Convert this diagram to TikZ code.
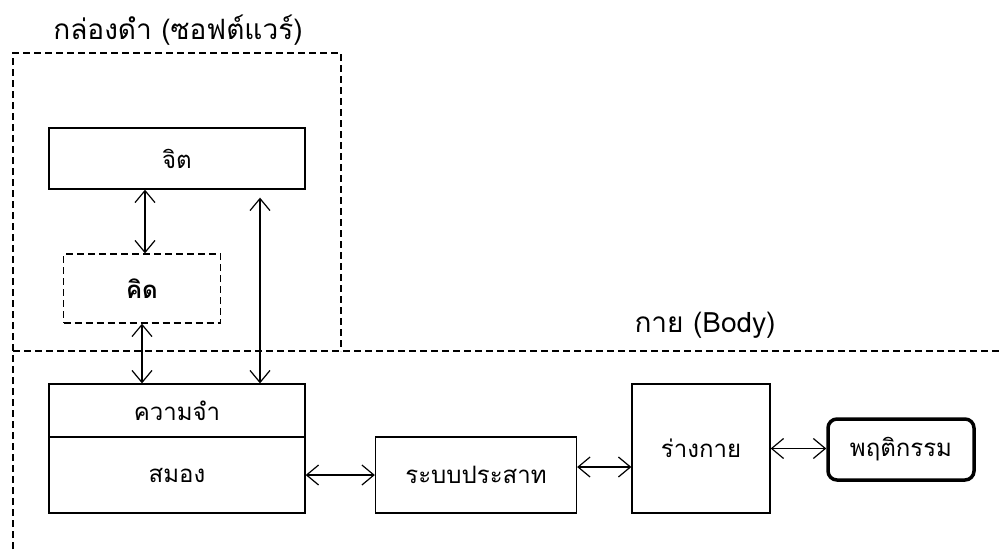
\documentclass[tikz,border=0pt]{standalone}
\usepackage{fontspec}
\setmainfont[Script=Thai]{Loma}
\usetikzlibrary{arrows.meta}
\begin{document}
\begin{tikzpicture}[x=1pt,y=-1pt,
  box/.style={draw, line width=1.3pt, inner sep=0pt, font=\fontsize{24}{28}\selectfont},
  dbox/.style={box, dash pattern=on 7pt off 4pt},
  link/.style={{Straight Barb[length=12pt,width=20pt]}-{Straight Barb[length=12pt,width=20pt]}, line width=1.2pt},
  region/.style={draw, line width=1.2pt, dash pattern=on 7pt off 4pt},
  title/.style={font=\fontsize{28}{32}\selectfont, inner sep=0pt}]
\useasboundingbox (0,0) rectangle (1000,549);
% regions
\coordinate (sw) at (13,549);
\coordinate (nw) at (13,53);
\coordinate (ne) at (341,53);
\coordinate (se) at (341,351);
\coordinate (ml) at (13,351);
\coordinate (mr) at (1000,351);
\draw[region] (sw) -- (nw) -- (ne) -- (se);
\draw[region] (ml) -- (mr);
\node[title] (t1) at (178,30) {กล่องดำ (ซอฟต์แวร์)};
\node[title] (t2) at (705,325) {กาย (Body)};
% boxes
\node[box, minimum width=256pt, minimum height=61pt] (jit) at (177,158.5) {จิต};
\node[dbox, minimum width=157pt, minimum height=69pt, font=\fontsize{24}{28}\selectfont\bfseries] (kid) at (142,288.5) {คิด};
\node[box, minimum width=256pt, minimum height=53pt] (mem) at (177,410.5) {ความจำ};
\node[box, minimum width=256pt, minimum height=76pt] (brain) at (177,475) {สมอง};
\node[box, minimum width=201pt, minimum height=76pt] (nerve) at (476,475) {ระบบประสาท};
\node[box, minimum width=138pt, minimum height=129pt] (body) at (701,448.5) {ร่างกาย};
\node[box, line width=3.5pt, rounded corners=9pt, minimum width=146pt, minimum height=61pt] (behav) at (901,449.5) {พฤติกรรม};
% connectors
\draw[link] ([xshift=3pt]kid.north) -- ([xshift=-32pt]jit.south);
\draw[link] (kid.south) -- (kid.south |- mem.north);
\draw[link] ([xshift=83pt,yshift=-8pt]jit.south) -- ([xshift=83pt]mem.north);
\draw[link] (brain.east) -- (nerve.west);
\draw[link] ([yshift=8pt]nerve.east) -- ([yshift=-18.5pt]body.west);
\draw[link] (body.east) -- (body.east -| behav.west);
\end{tikzpicture}
\end{document}
